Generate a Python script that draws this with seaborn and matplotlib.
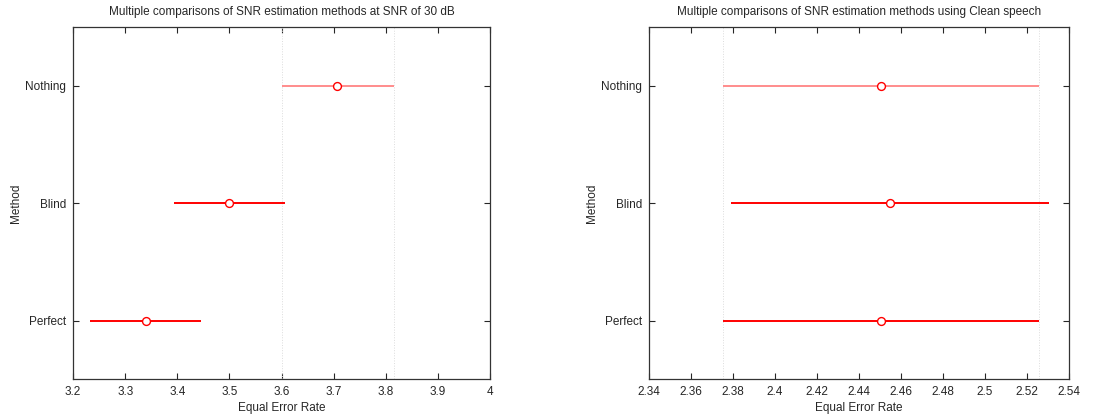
import numpy as np
import pandas as pd
import matplotlib
matplotlib.use("Agg")
import matplotlib.pyplot as plt
import seaborn as sns

# --------------------------
# Data
# --------------------------
methods = ["Nothing", "Blind", "Perfect"]

snr30_mean = [3.706, 3.499, 3.339]
snr30_low = [3.601, 3.393, 3.232]
snr30_high = [3.815, 3.606, 3.446]

clean_mean = [2.4505, 2.4551, 2.4505]
clean_low = [2.3755, 2.3794, 2.3755]
clean_high = [2.5260, 2.5308, 2.5260]

snr30_ticks = [3.2, 3.3, 3.4, 3.5, 3.6, 3.7, 3.8, 3.9, 4.0]
clean_ticks = [2.34, 2.36, 2.38, 2.40, 2.42, 2.44, 2.46, 2.48, 2.50, 2.52, 2.54]

sns.set_style("white")
plt.rcParams["font.family"] = ["Liberation Sans", "DejaVu Sans"]

RED = "#ff0000"
LIGHT_RED = "#ff8c8c"


def draw_panel(ax, mean, low, high, ticks, title):
    df = pd.DataFrame({"method": methods, "mean": mean, "low": low, "high": high})
    df["pos"] = [3, 2, 1]
    colors = [LIGHT_RED] + [RED] * (len(df) - 1)

    # reference lines at the first group's interval
    for v in (df["low"].iloc[0], df["high"].iloc[0]):
        ax.axvline(v, color="#dcdcdc", linestyle=":", linewidth=0.7, zorder=1)

    ax.hlines(df["pos"], df["low"], df["high"], colors=colors, linewidth=1.4, zorder=2)
    sns.scatterplot(data=df, x="mean", y="pos", ax=ax, marker="o", s=32,
                    facecolors="white", edgecolor=RED, linewidth=1.0,
                    zorder=3, legend=False)

    ax.set_xlim(ticks[0], ticks[-1])
    ax.set_ylim(0.5, 3.5)
    ax.set_xticks(ticks)
    ax.set_xticklabels([f"{t:g}" for t in ticks])
    ax.set_yticks(df["pos"])
    ax.set_yticklabels(df["method"])
    ax.set_xlabel("Equal Error Rate", fontsize=8.5, labelpad=3)
    ax.set_ylabel("Method", fontsize=8.5, labelpad=2)
    ax.set_title(title, fontsize=8.5, pad=9)
    ax.tick_params(direction="in", length=4, width=0.8, labelsize=8.5,
                   top=True, right=True, bottom=True, left=True, pad=5)
    for sp in ax.spines.values():
        sp.set_visible(True)
        sp.set_color("#333333")
        sp.set_linewidth(0.9)


fig = plt.figure(figsize=(11.17, 4.18), dpi=100)
ax1 = fig.add_axes([73 / 1117, 1 - 379.3 / 418, 417.3 / 1117, 352 / 418])
ax2 = fig.add_axes([648.7 / 1117, 1 - 379.3 / 418, 420 / 1117, 352 / 418])

draw_panel(ax1, snr30_mean, snr30_low, snr30_high, snr30_ticks,
           "Multiple comparisons of SNR estimation methods at SNR of 30 dB")
draw_panel(ax2, clean_mean, clean_low, clean_high, clean_ticks,
           "Multiple comparisons of SNR estimation methods using Clean speech")

fig.savefig("out.png", dpi=100)
